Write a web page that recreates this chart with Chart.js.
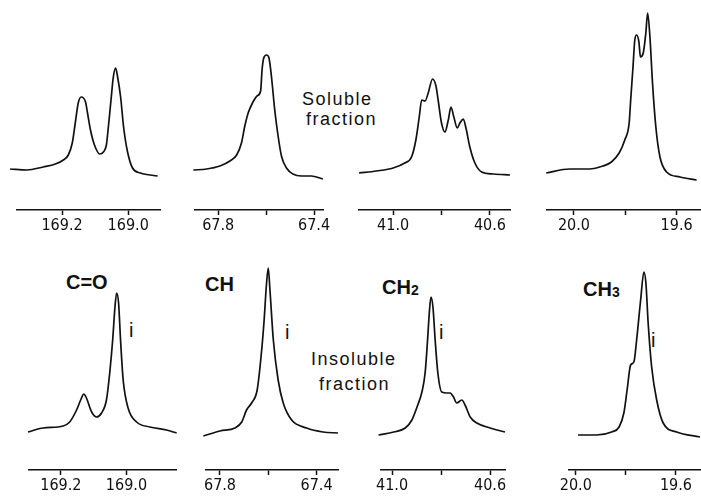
<!DOCTYPE html>
<html>
<head>
<meta charset="utf-8">
<script src="https://cdn.jsdelivr.net/npm/chart.js@4.4.1/dist/chart.umd.min.js"></script>
<style>
  html, body { margin: 0; padding: 0; background: #fff; }
  #fig { position: relative; width: 701px; height: 497px; overflow: hidden; background: #fff; }
  #fig canvas { position: absolute; }
  .txt { position: absolute; white-space: nowrap; color: #111; font-family: "Liberation Sans", Arial, sans-serif; }
  .frac { font-size: 18px; line-height: 18px; letter-spacing: 1.5px; }
  .grp { font-size: 20px; line-height: 20px; font-weight: bold; }
  .grp span { font-size: 14px; vertical-align: -1px; }
  .iso { font-size: 20px; line-height: 20px; }
</style>
</head>
<body>
<div id="fig">
  <div class="txt frac" style="left:302px; top:90px;">Soluble</div>
  <div class="txt frac" style="left:306px; top:110px;">fraction</div>
  <div class="txt frac" style="left:311px; top:350px;">Insoluble</div>
  <div class="txt frac" style="left:319px; top:375px;">fraction</div>

  <div class="txt grp" style="left:66px; top:272px;">C=O</div>
  <div class="txt grp" style="left:205px; top:274px;">CH</div>
  <div class="txt grp" style="left:382px; top:277px;">CH<span>2</span></div>
  <div class="txt grp" style="left:583px; top:279px;">CH<span>3</span></div>

  <div class="txt iso" style="left:129px; top:320px;">i</div>
  <div class="txt iso" style="left:285px; top:322px;">i</div>
  <div class="txt iso" style="left:439px; top:322px;">i</div>
  <div class="txt iso" style="left:651px; top:330px;">i</div>
</div>
<script>
// chemical shift (ppm) and intensity (arb. units)
const coSolPpm = [169.357,169.306,169.257,169.220,169.196,169.181,169.169,169.160,169.151,169.142,169.129,169.123,169.114,169.102,169.086,169.075,169.066,169.060,169.052,169.045,169.038,169.032,169.023,169.014,169.002,168.987,168.963,168.911];
const coSolInt = [1,0,3,6,10,15,27,47,67,73,68,57,40,25,16,18,25,43,70,93,102,93,73,43,18,2,-3,-6];

const chSolPpm = [67.904,67.848,67.793,67.751,67.723,67.703,67.689,67.675,67.657,67.638,67.623,67.617,67.610,67.598,67.588,67.578,67.564,67.550,67.536,67.515,67.488,67.453,67.411,67.363];
const chSolInt = [0,1,4,9,15,27,44,57,67,74,79,100,112,115,112,94,60,34,14,2,-4,-6,-6,-9];

const ch2SolPpm = [41.141,41.069,41.000,40.952,40.924,40.906,40.892,40.882,40.868,40.855,40.837,40.823,40.814,40.800,40.786,40.772,40.761,40.749,40.735,40.724,40.710,40.699,40.683,40.662,40.634,40.586,40.517];
const ch2SolInt = [-3,-1,2,7,13,30,53,70,69,77,91,84,70,47,38,50,63,53,42,47,51,42,23,7,-2,-4,-5];

const ch3SolPpm = [20.108,20.017,19.939,19.887,19.854,19.824,19.802,19.785,19.779,19.770,19.763,19.756,19.747,19.741,19.730,19.720,19.713,19.704,19.694,19.681,19.665,19.639,19.587,19.522];
const ch3SolInt = [-3,1,1,4,8,17,30,47,70,103,130,135,128,113,117,137,157,133,87,43,13,-2,-7,-10];

const coInsPpm = [169.300,169.254,169.193,169.173,169.152,169.137,169.130,169.122,169.106,169.091,169.076,169.061,169.051,169.042,169.035,169.030,169.024,169.018,169.010,168.995,168.969,168.929,168.878,168.847];
const coInsInt = [0,4,6,10,22,34,38,34,20,15,19,32,59,92,125,139,129,92,52,24,10,5,2,-1];

const chInsPpm = [67.869,67.800,67.738,67.710,67.690,67.669,67.646,67.630,67.618,67.607,67.600,67.593,67.579,67.559,67.538,67.503,67.441,67.373,67.311];
const chInsInt = [-4,1,4,10,22,29,42,75,109,149,164,142,92,52,29,12,4,0,-1];

const ch2InsPpm = [41.055,40.993,40.946,40.919,40.898,40.878,40.865,40.855,40.847,40.841,40.833,40.824,40.813,40.797,40.776,40.763,40.749,40.736,40.715,40.702,40.681,40.654,40.600,40.539];
const ch2InsInt = [-3,0,4,12,25,40,59,92,122,135,125,92,59,40,39,39,35,29,32,27,15,9,4,0];

const ch3InsPpm = [19.991,19.917,19.857,19.827,19.808,19.795,19.781,19.768,19.757,19.741,19.728,19.720,19.711,19.697,19.677,19.651,19.597,19.504];
const ch3InsInt = [-3,-3,0,5,19,42,67,70,92,132,160,149,109,65,32,9,0,-5];

// axis ticks
const coTicks = [169.2, 169.0];
const coTickLabels = ["169.2", "169.0"];
const chTicks = [67.8, 67.6, 67.4];
const chTickLabels = ["67.8", "", "67.4"];
const ch2Ticks = [41.0, 40.8, 40.6];
const ch2TickLabels = ["41.0", "", "40.6"];
const ch3Ticks = [20.0, 19.8, 19.6];
const ch3TickLabels = ["20.0", "", "19.6"];

const PAD = 14;
const topRow = { top: 0, h: 240, y: [-40, 170] };
const botRow = { top: 240, h: 260, y: [-38, 192] };

const panels = [
  { ppm: coSolPpm, int: coSolInt, range: [168.904, 169.336], axis: [16.5, 159.3], ticks: coTicks, labels: coTickLabels, row: topRow },
  { ppm: chSolPpm, int: chSolInt, range: [67.3625, 67.897], axis: [195, 323.3], ticks: chTicks, labels: chTickLabels, row: topRow },
  { ppm: ch2SolPpm, int: ch2SolInt, range: [40.517, 41.141], axis: [359.3, 510], ticks: ch2Ticks, labels: ch2TickLabels, row: topRow },
  { ppm: ch3SolPpm, int: ch3SolInt, range: [19.509, 20.105], axis: [547.3, 700], ticks: ch3Ticks, labels: ch3TickLabels, row: topRow },
  { ppm: coInsPpm, int: coInsInt, range: [168.849, 169.297], axis: [29.3, 176], ticks: coTicks, labels: coTickLabels, row: botRow },
  { ppm: chInsPpm, int: chInsInt, range: [67.311, 67.858], axis: [206, 338.3], ticks: chTicks, labels: chTickLabels, row: botRow },
  { ppm: ch2InsPpm, int: ch2InsInt, range: [40.539, 41.045], axis: [380.7, 505], ticks: ch2Ticks, labels: ch2TickLabels, row: botRow },
  { ppm: ch3InsPpm, int: ch3InsInt, range: [19.504, 20.027], axis: [569.3, 700], ticks: ch3Ticks, labels: ch3TickLabels, row: botRow }
];

function drawPanel(p) {
  const c = document.createElement("canvas");
  c.width = Math.round(p.axis[1] - p.axis[0]) + 2 * PAD;
  c.height = p.row.h;
  c.style.left = (Math.round(p.axis[0]) - PAD) + "px";
  c.style.top = p.row.top + "px";
  document.getElementById("fig").appendChild(c);

  new Chart(c, {
    type: "line",
    data: {
      datasets: [{
        data: p.ppm.map((x, i) => ({ x: x, y: p.int[i] })),
        borderColor: "#111",
        borderWidth: 1.7,
        pointRadius: 0,
        fill: false,
        cubicInterpolationMode: "monotone",
        clip: false
      }]
    },
    options: {
      responsive: false,
      animation: false,
      devicePixelRatio: 1,
      layout: { padding: { left: PAD, right: PAD, top: 0, bottom: 0 } },
      plugins: { legend: { display: false }, tooltip: { enabled: false } },
      scales: {
        x: {
          type: "linear",
          reverse: true,
          min: p.range[0],
          max: p.range[1],
          afterBuildTicks: s => { s.ticks = p.ticks.map(v => ({ value: v })); },
          afterFit: s => { s.height = 30; },
          border: { display: true, color: "#111", width: 1.5 },
          grid: { drawOnChartArea: false, drawTicks: true, tickLength: 5, tickColor: "#111", tickWidth: 1.5 },
          ticks: {
            autoSkip: false,
            maxRotation: 0,
            padding: 1,
            color: "#111",
            font: { family: "'Liberation Sans Narrow', 'DejaVu Sans Condensed', 'Liberation Sans', Arial, sans-serif", size: 16 },
            callback: (v, i) => p.labels[i]
          }
        },
        y: { display: false, min: p.row.y[0], max: p.row.y[1] }
      }
    }
  });
}

panels.forEach(drawPanel);
</script>
</body>
</html>
